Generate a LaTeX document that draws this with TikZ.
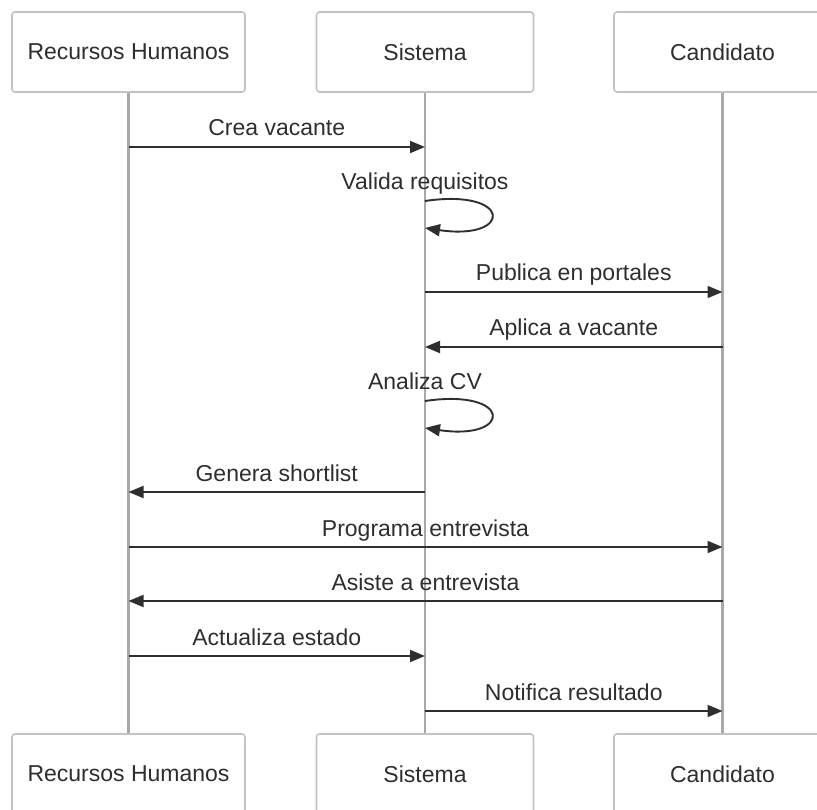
\documentclass[tikz,border=0pt]{standalone}
\usepackage{fontspec}
\setmainfont{Liberation Sans}
\usetikzlibrary{arrows.meta}
\definecolor{ink}{HTML}{2E2E2E}
\definecolor{boxline}{HTML}{C2C2C2}
\definecolor{lifegray}{HTML}{A8A8A8}
\tikzset{
  actor/.style={draw=boxline, line width=1.6pt, rounded corners=3pt, fill=white,
    minimum width=217pt, minimum height=80pt, inner sep=0pt, text=ink,
    font=\fontsize{23}{26}\selectfont},
  life/.style={draw=lifegray, line width=2.1pt},
  msg/.style={draw=ink, line width=1.9pt, -{Triangle[length=15pt,width=12pt]}},
  lbl/.style={anchor=base, yshift=11pt, inner sep=0pt, text=ink,
    font=\fontsize{23}{26}\selectfont},
}
\begin{document}
\begin{tikzpicture}[x=1pt,y=-1pt]
\useasboundingbox (0,0) rectangle (817,810);
\clip (0,0) rectangle (817,810);

% participants, top row
\node[actor, minimum width=233pt] (rhT) at (128.5,52) {Recursos Humanos};
\node[actor] (sysT) at (425,52) {Sistema};
\node[actor] (canT) at (722.5,52) {Candidato};
% participants, bottom row
\node[actor, minimum width=233pt] (rhB) at (128.5,774) {Recursos Humanos};
\node[actor] (sysB) at (425,774) {Sistema};
\node[actor] (canB) at (722.5,774) {Candidato};

% lifelines
\draw[life] (rhT) -- (rhB);
\draw[life] (sysT) -- (sysB);
\draw[life] (canT) -- (canB);

% messages
\draw[msg] (rhT |- 0,147) -- node[lbl]{Crea vacante} (sysT |- 0,147);

\node[lbl] (val) at (sysT |- 0,201) {Valida requisitos};
\draw[msg] (sysT |- 0,201) .. controls +(88,-13) and +(88,13) .. (sysT |- 0,228);

\draw[msg] (sysT |- 0,292) -- node[lbl]{Publica en portales} (canT |- 0,292);
\draw[msg] (canT |- 0,347) -- node[lbl]{Aplica a vacante} (sysT |- 0,347);

\node[lbl] (ana) at (sysT |- 0,401) {Analiza CV};
\draw[msg] (sysT |- 0,401) .. controls +(88,-13) and +(88,13) .. (sysT |- 0,428);

\draw[msg] (sysT |- 0,492) -- node[lbl]{Genera shortlist} (rhT |- 0,492);
\draw[msg] (rhT |- 0,547) -- node[lbl]{Programa entrevista} (canT |- 0,547);
\draw[msg] (canT |- 0,601) -- node[lbl]{Asiste a entrevista} (rhT |- 0,601);
\draw[msg] (rhT |- 0,656) -- node[lbl]{Actualiza estado} (sysT |- 0,656);
\draw[msg] (sysT |- 0,711) -- node[lbl]{Notifica resultado} (canT |- 0,711);
\end{tikzpicture}
\end{document}
